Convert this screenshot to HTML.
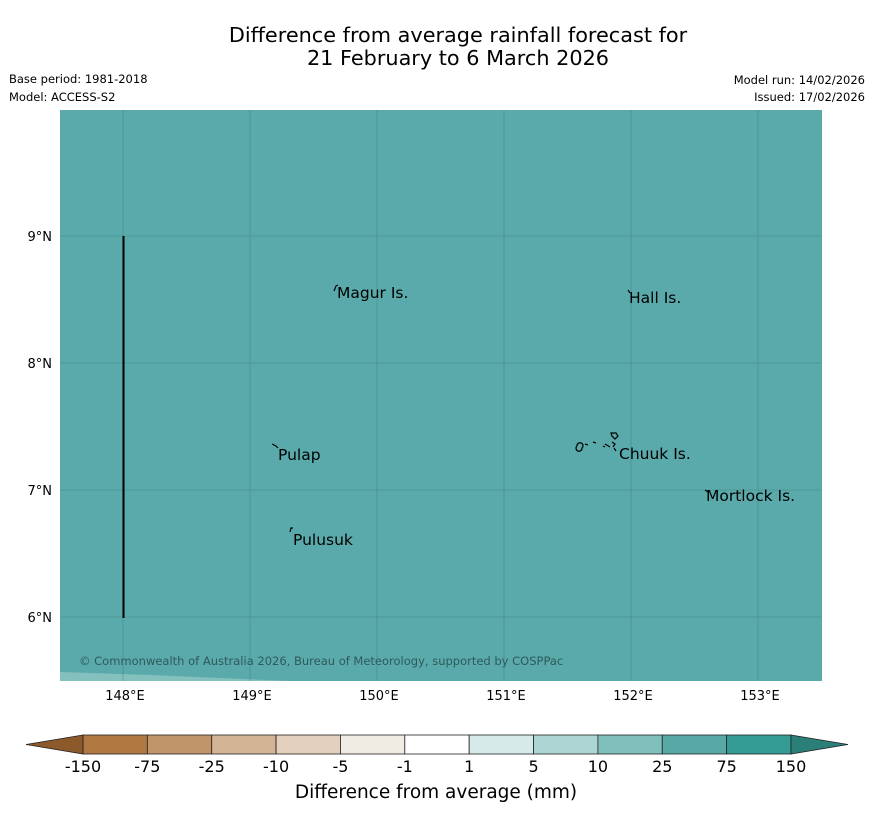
<!DOCTYPE html>
<html><head><meta charset="utf-8"><style>
body{margin:0;background:#fff;font-family:"DejaVu Sans","Liberation Sans",sans-serif}
svg{display:block}
</style></head><body>
<svg width="873" height="816" viewBox="0 0 873 816" font-family="DejaVu Sans, Liberation Sans, sans-serif">
<text x="458" y="42" font-size="20.8" text-anchor="middle">Difference from average rainfall forecast for</text>
<text x="458" y="65" font-size="20.8" text-anchor="middle">21 February to 6 March 2026</text>
<text x="9" y="83" font-size="11.5">Base period: 1981-2018</text>
<text x="9" y="101" font-size="11.5">Model: ACCESS-S2</text>
<text x="865" y="84" font-size="11.5" text-anchor="end">Model run: 14/02/2026</text>
<text x="865" y="101" font-size="11.5" text-anchor="end">Issued: 17/02/2026</text>
<g id="map">
<rect x="60" y="110" width="762" height="571" fill="#5aaaab"/>
<polygon points="60,672 150,675 290,681 60,681" fill="#84c0bd"/>
<g id="grid" stroke="#2f5f60" stroke-width="0.6" opacity="0.45"></g>
<line x1="123.5" y1="236" x2="123.5" y2="618" stroke="#000" stroke-width="2"/>
<g id="islands" stroke="#000" stroke-width="1.2" fill="none">
<path d="M334,291 l2,-5 l2,-1"/>
<path d="M628,290 l2,3"/>
<path d="M272,444 l4,2 l2,2"/>
<path d="M290,532 l1,-4 l2,0"/>
<path d="M705,490 l3,2"/>
<path d="M577,446 a3,3 0 1,1 5,2 a3,3 0 1,1 -5,-2 M585,444 l3,1 M593,442 l3,1 M603,446 l2,1 M605,444 l5,3 M611,433 l5,0 l2,3 l-3,3 l-3,-3z M612,442 l3,2 l-2,3 M614,448 l2,3"/>
</g>
<g font-size="15.5" fill="#000">
<text x="337" y="298">Magur Is.</text>
<text x="629" y="303">Hall Is.</text>
<text x="278" y="460">Pulap</text>
<text x="619" y="459">Chuuk Is.</text>
<text x="706" y="501">Mortlock Is.</text>
<text x="293" y="545">Pulusuk</text>
</g>
<text x="79" y="665" font-size="11.5" fill="#2f5a5a">© Commonwealth of Australia 2026, Bureau of Meteorology, supported by COSPPac</text>
</g>
<g id="axes" font-size="13"></g>
<g id="cbar"></g>
<text x="436" y="798" font-size="18.5" text-anchor="middle">Difference from average (mm)</text>
</svg>
<script>
const lonTicks=[148,149,150,151,152,153];
const latTicks=[9,8,7,6];
const cbarLabels=["-150","-75","-25","-10","-5","-1","1","5","10","25","75","150"];
const cbarColors=["#b07840","#c0956a","#d2b394","#e3d0bd","#f0ece4","#ffffff","#d6ebe9","#acd5d3","#80bfbc","#58a9a6","#359b95"];
const NS="http://www.w3.org/2000/svg";
const xLon=l=>123+(l-148)*127;
const yLat=l=>236+(9-l)*127;
function mk(t,a,p){const e=document.createElementNS(NS,t);for(const k in a)e.setAttribute(k,a[k]);p.appendChild(e);return e;}
const grid=document.getElementById('grid'),axes=document.getElementById('axes'),cb=document.getElementById('cbar');
lonTicks.forEach(l=>{const x=xLon(l);
const g=mk('line',{x1:x,y1:110,x2:x,y2:681},grid);


const t=mk('text',{x:x+2,y:700,'text-anchor':'middle'},axes);t.textContent=l+'°E';

});
latTicks.forEach(l=>{const y=yLat(l);
const g=mk('line',{x1:60,y1:y,x2:822,y2:y},grid);


const t=mk('text',{x:52,y:y+5,'text-anchor':'end'},axes);t.textContent=l+'°N';

});
const x0=83,x1=791,y0=735,y1=754,n=cbarColors.length,w=(x1-x0)/n;
cbarColors.forEach((c,i)=>{const r=mk('rect',{x:x0+i*w,y:y0,width:w,height:y1-y0,fill:c,stroke:'#222','stroke-width':0.8},cb);

});
const lt=mk('polygon',{points:`${x0},${y0} 26,744.5 ${x0},${y1}`,fill:'#8c5a2a',stroke:'#222','stroke-width':0.8},cb);


const rt=mk('polygon',{points:`${x1},${y0} 848,744.5 ${x1},${y1}`,fill:'#2a7f78',stroke:'#222','stroke-width':0.8},cb);


cbarLabels.forEach((s,i)=>{const t=mk('text',{x:x0+i*w,y:772,'font-size':16,'text-anchor':'middle'},cb);t.textContent=s;

});
</script>
</body></html>
